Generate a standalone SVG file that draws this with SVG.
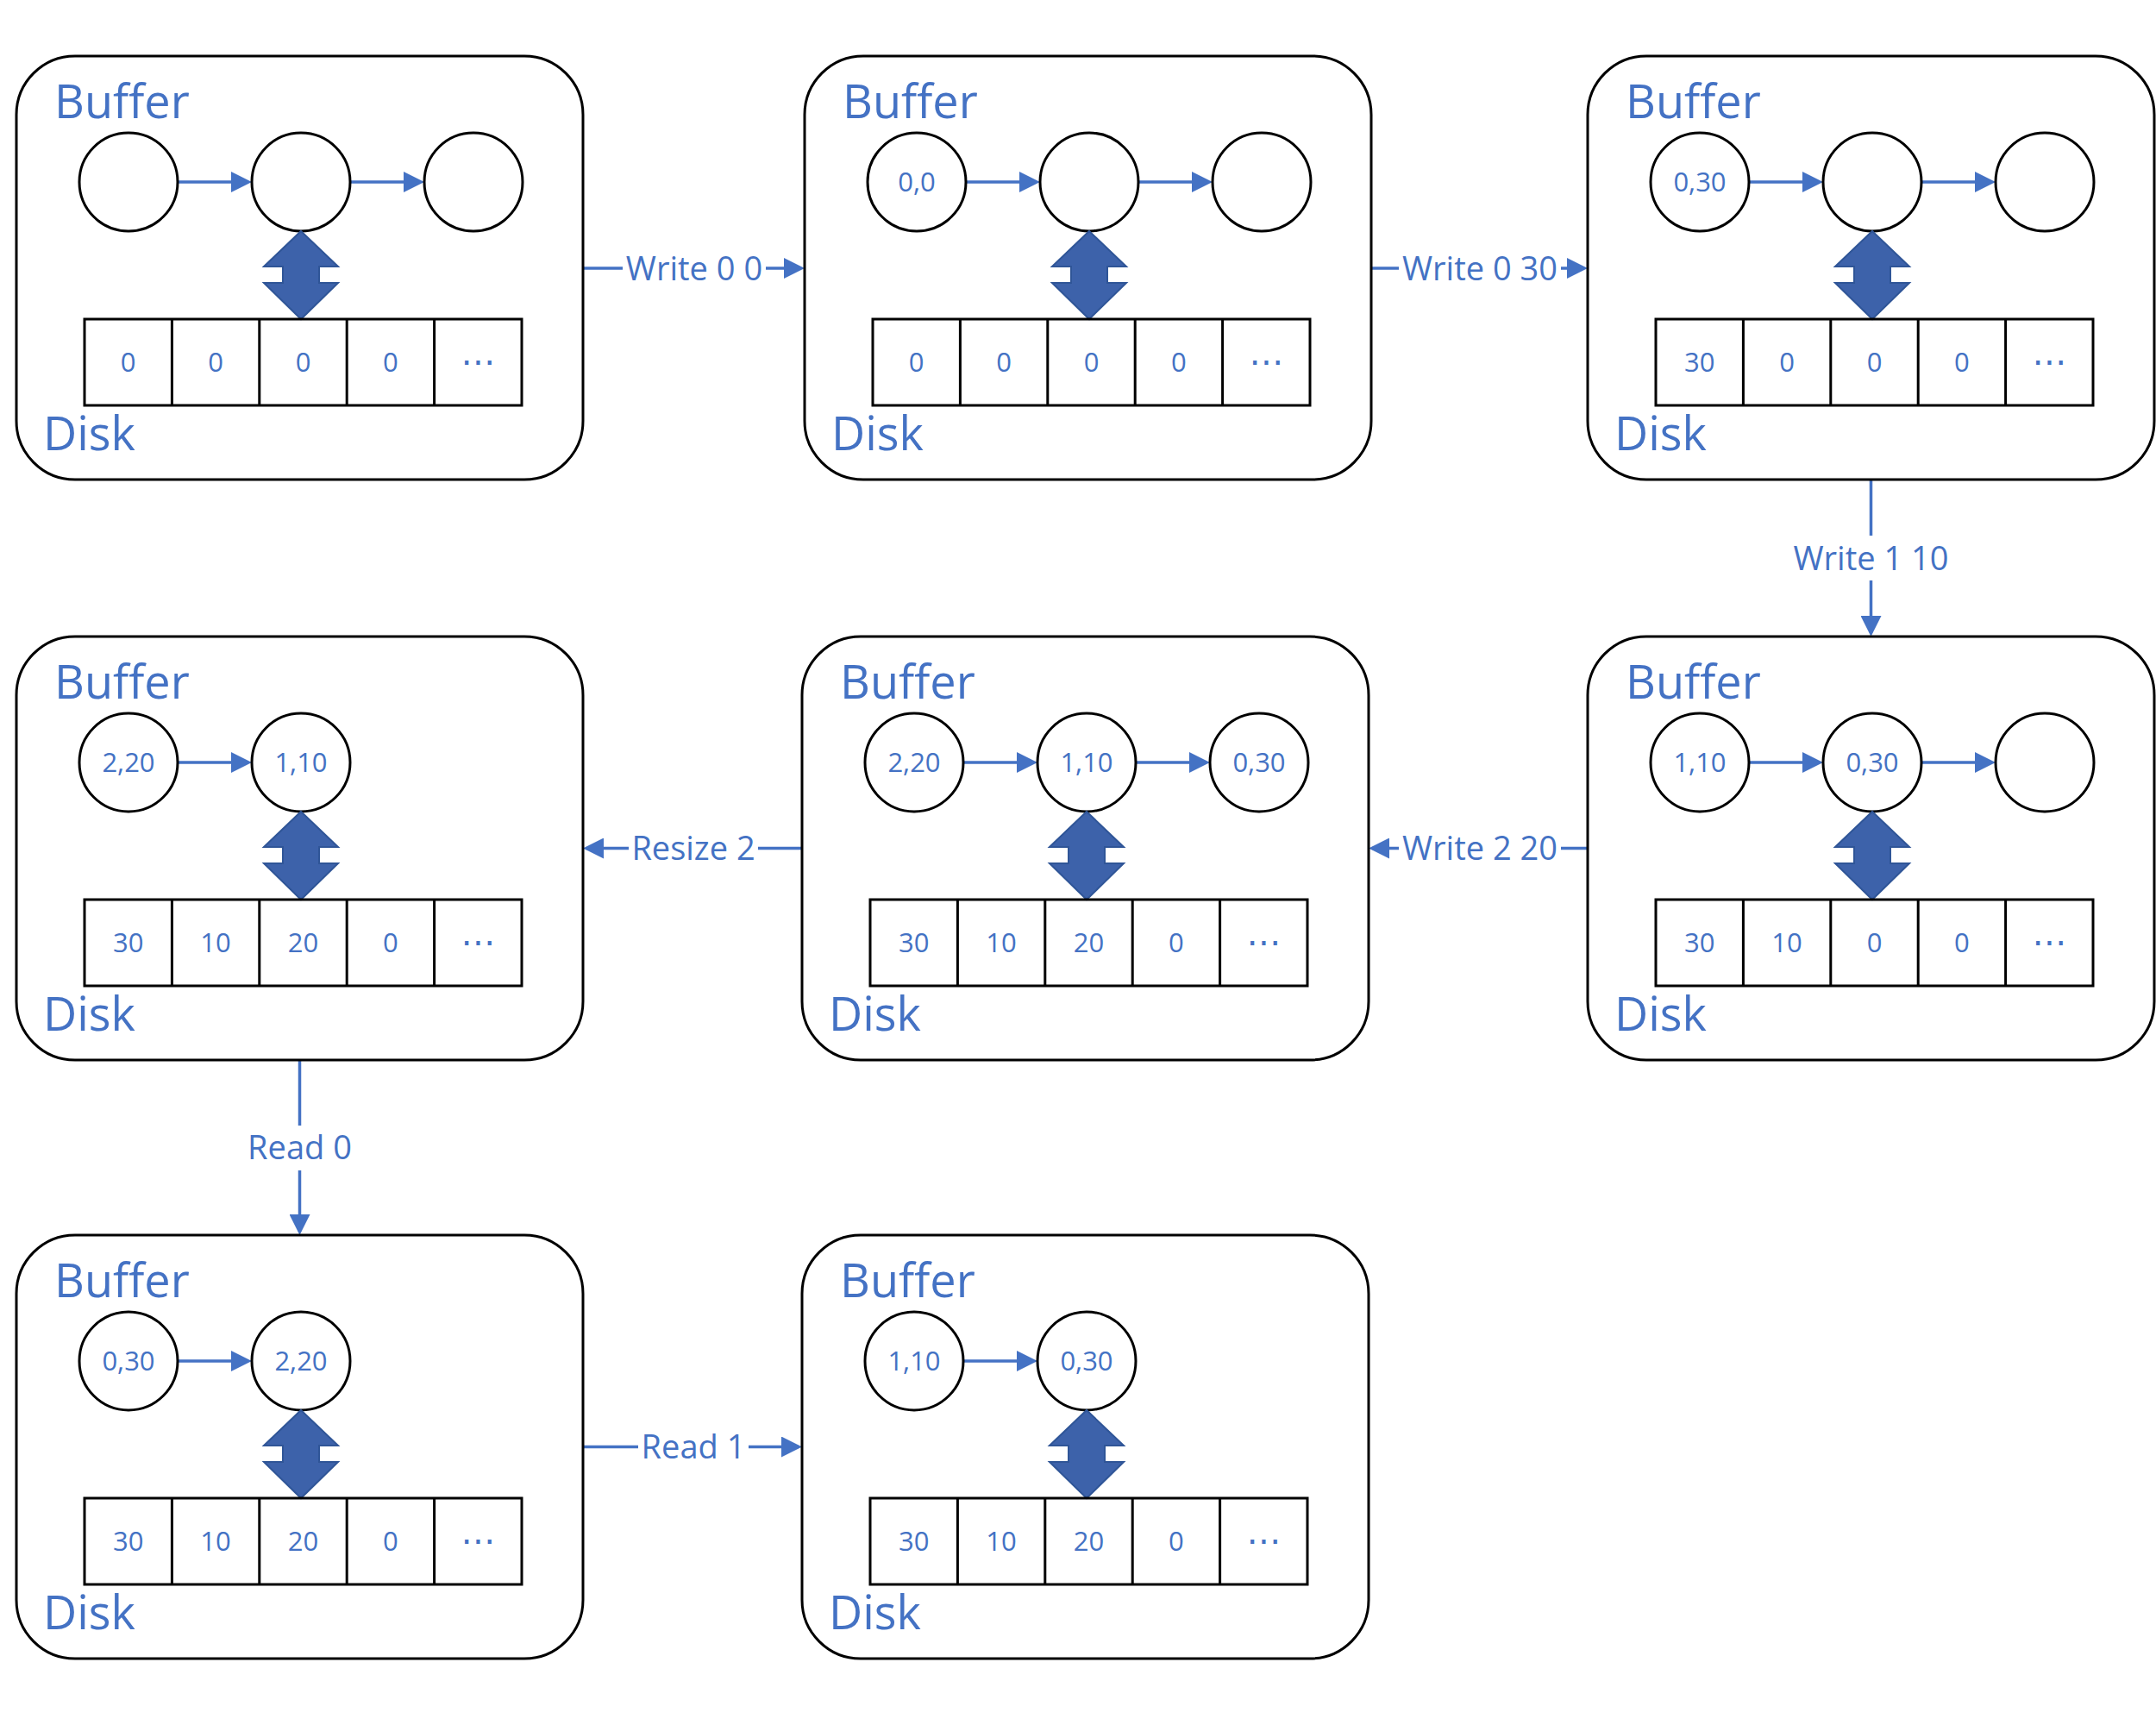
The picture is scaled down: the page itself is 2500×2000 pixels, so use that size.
<svg xmlns="http://www.w3.org/2000/svg" width="2500" height="2000" viewBox="0 0 2500 2000">
<style>
.panel{fill:#fff;stroke:#000;stroke-width:3}
.node{fill:#fff;stroke:#000;stroke-width:3}
.cells{fill:none;stroke:#000;stroke-width:3}
.link{stroke:#4472C4;stroke-width:3.5;fill:none}
.dbl{fill:#3D62AA;stroke:#2F5597;stroke-width:2}
.title{font-family:"Open Sans","Liberation Sans",sans-serif;font-size:54px;fill:#4472C4}
.val{font-family:"Open Sans","Liberation Sans",sans-serif;font-size:31px;fill:#4472C4;text-anchor:middle}
.ell{font-family:"DejaVu Sans",sans-serif;font-size:40px;fill:#4472C4;text-anchor:middle}
.lbl{font-family:"Open Sans","Liberation Sans",sans-serif;font-size:38px;fill:#4472C4;text-anchor:middle}
.bg{fill:#fff;stroke:none}
</style>
<defs>
<marker id="ah" markerUnits="userSpaceOnUse" markerWidth="24" markerHeight="24" viewBox="0 0 24 24" refX="20" refY="12" orient="auto">
<path d="M0,0 L24,12 L0,24 Z" fill="#4472C4"/>
</marker>
</defs>
<rect width="2500" height="2000" fill="#fff"/>

<g id="connectors">
<line class="link" x1="676" y1="311" x2="929" y2="311" marker-end="url(#ah)"/>
<rect class="bg" x="722" y="287" width="166" height="48"/>
<text class="lbl" x="805" y="324.6">Write 0 0</text>

<line class="link" x1="1590" y1="311" x2="1837" y2="311" marker-end="url(#ah)"/>
<rect class="bg" x="1622" y="287" width="188" height="48"/>
<text class="lbl" x="1716" y="324.6">Write 0 30</text>

<line class="link" x1="2169.5" y1="556" x2="2169.5" y2="734" marker-end="url(#ah)"/>
<rect class="bg" x="2075" y="621" width="190" height="52"/>
<text class="lbl" x="2169.5" y="661">Write 1 10</text>

<line class="link" x1="1841" y1="983.5" x2="1591" y2="983.5" marker-end="url(#ah)"/>
<rect class="bg" x="1622" y="959.5" width="188" height="48"/>
<text class="lbl" x="1716" y="997.1">Write 2 20</text>

<line class="link" x1="930" y1="983.5" x2="680" y2="983.5" marker-end="url(#ah)"/>
<rect class="bg" x="729" y="959.5" width="150" height="48"/>
<text class="lbl" x="804" y="997.1">Resize 2</text>

<line class="link" x1="347.5" y1="1229" x2="347.5" y2="1428" marker-end="url(#ah)"/>
<rect class="bg" x="280" y="1305" width="135" height="52"/>
<text class="lbl" x="347.5" y="1343.6">Read 0</text>

<line class="link" x1="676" y1="1677.5" x2="926" y2="1677.5" marker-end="url(#ah)"/>
<rect class="bg" x="740" y="1653.5" width="128" height="48"/>
<text class="lbl" x="804" y="1691.1">Read 1</text>
</g>

<g id="state1" transform="translate(19,65)">
<rect class="panel" x="0" y="0" width="657" height="491" rx="68"/>
<text class="title" x="44" y="72">Buffer</text>
<line class="link" x1="187" y1="146" x2="269" y2="146" marker-end="url(#ah)"/>
<line class="link" x1="387" y1="146" x2="469" y2="146" marker-end="url(#ah)"/>
<circle class="node" cx="130" cy="146" r="57"/>
<circle class="node" cx="330" cy="146" r="57"/>
<circle class="node" cx="530" cy="146" r="57"/>
<polygon class="dbl" points="330,203 373,244 351,244 351,263 373,263 330,305 287,263 309,263 309,244 287,244"/>
<rect class="cells" x="79" y="305" width="507" height="100"/>
<path class="cells" d="M180.4 305V405M281.8 305V405M383.2 305V405M484.6 305V405"/>
<text class="val" x="129.7" y="366">0</text>
<text class="val" x="231.1" y="366">0</text>
<text class="val" x="332.5" y="366">0</text>
<text class="val" x="433.9" y="366">0</text>
<text class="ell" x="535.3" y="368">⋯</text>
<text class="title" x="31" y="457">Disk</text>
</g>

<g id="state2" transform="translate(933,65)">
<rect class="panel" x="0" y="0" width="657" height="491" rx="68"/>
<text class="title" x="44" y="72">Buffer</text>
<line class="link" x1="187" y1="146" x2="269" y2="146" marker-end="url(#ah)"/>
<line class="link" x1="387" y1="146" x2="469" y2="146" marker-end="url(#ah)"/>
<circle class="node" cx="130" cy="146" r="57"/>
<circle class="node" cx="330" cy="146" r="57"/>
<circle class="node" cx="530" cy="146" r="57"/>
<text class="val" x="130" y="157">0,0</text>
<polygon class="dbl" points="330,203 373,244 351,244 351,263 373,263 330,305 287,263 309,263 309,244 287,244"/>
<rect class="cells" x="79" y="305" width="507" height="100"/>
<path class="cells" d="M180.4 305V405M281.8 305V405M383.2 305V405M484.6 305V405"/>
<text class="val" x="129.7" y="366">0</text>
<text class="val" x="231.1" y="366">0</text>
<text class="val" x="332.5" y="366">0</text>
<text class="val" x="433.9" y="366">0</text>
<text class="ell" x="535.3" y="368">⋯</text>
<text class="title" x="31" y="457">Disk</text>
</g>

<g id="state3" transform="translate(1841,65)">
<rect class="panel" x="0" y="0" width="657" height="491" rx="68"/>
<text class="title" x="44" y="72">Buffer</text>
<line class="link" x1="187" y1="146" x2="269" y2="146" marker-end="url(#ah)"/>
<line class="link" x1="387" y1="146" x2="469" y2="146" marker-end="url(#ah)"/>
<circle class="node" cx="130" cy="146" r="57"/>
<circle class="node" cx="330" cy="146" r="57"/>
<circle class="node" cx="530" cy="146" r="57"/>
<text class="val" x="130" y="157">0,30</text>
<polygon class="dbl" points="330,203 373,244 351,244 351,263 373,263 330,305 287,263 309,263 309,244 287,244"/>
<rect class="cells" x="79" y="305" width="507" height="100"/>
<path class="cells" d="M180.4 305V405M281.8 305V405M383.2 305V405M484.6 305V405"/>
<text class="val" x="129.7" y="366">30</text>
<text class="val" x="231.1" y="366">0</text>
<text class="val" x="332.5" y="366">0</text>
<text class="val" x="433.9" y="366">0</text>
<text class="ell" x="535.3" y="368">⋯</text>
<text class="title" x="31" y="457">Disk</text>
</g>

<g id="state4" transform="translate(1841,738)">
<rect class="panel" x="0" y="0" width="657" height="491" rx="68"/>
<text class="title" x="44" y="72">Buffer</text>
<line class="link" x1="187" y1="146" x2="269" y2="146" marker-end="url(#ah)"/>
<line class="link" x1="387" y1="146" x2="469" y2="146" marker-end="url(#ah)"/>
<circle class="node" cx="130" cy="146" r="57"/>
<circle class="node" cx="330" cy="146" r="57"/>
<circle class="node" cx="530" cy="146" r="57"/>
<text class="val" x="130" y="157">1,10</text>
<text class="val" x="330" y="157">0,30</text>
<polygon class="dbl" points="330,203 373,244 351,244 351,263 373,263 330,305 287,263 309,263 309,244 287,244"/>
<rect class="cells" x="79" y="305" width="507" height="100"/>
<path class="cells" d="M180.4 305V405M281.8 305V405M383.2 305V405M484.6 305V405"/>
<text class="val" x="129.7" y="366">30</text>
<text class="val" x="231.1" y="366">10</text>
<text class="val" x="332.5" y="366">0</text>
<text class="val" x="433.9" y="366">0</text>
<text class="ell" x="535.3" y="368">⋯</text>
<text class="title" x="31" y="457">Disk</text>
</g>

<g id="state5" transform="translate(930,738)">
<rect class="panel" x="0" y="0" width="657" height="491" rx="68"/>
<text class="title" x="44" y="72">Buffer</text>
<line class="link" x1="187" y1="146" x2="269" y2="146" marker-end="url(#ah)"/>
<line class="link" x1="387" y1="146" x2="469" y2="146" marker-end="url(#ah)"/>
<circle class="node" cx="130" cy="146" r="57"/>
<circle class="node" cx="330" cy="146" r="57"/>
<circle class="node" cx="530" cy="146" r="57"/>
<text class="val" x="130" y="157">2,20</text>
<text class="val" x="330" y="157">1,10</text>
<text class="val" x="530" y="157">0,30</text>
<polygon class="dbl" points="330,203 373,244 351,244 351,263 373,263 330,305 287,263 309,263 309,244 287,244"/>
<rect class="cells" x="79" y="305" width="507" height="100"/>
<path class="cells" d="M180.4 305V405M281.8 305V405M383.2 305V405M484.6 305V405"/>
<text class="val" x="129.7" y="366">30</text>
<text class="val" x="231.1" y="366">10</text>
<text class="val" x="332.5" y="366">20</text>
<text class="val" x="433.9" y="366">0</text>
<text class="ell" x="535.3" y="368">⋯</text>
<text class="title" x="31" y="457">Disk</text>
</g>

<g id="state6" transform="translate(19,738)">
<rect class="panel" x="0" y="0" width="657" height="491" rx="68"/>
<text class="title" x="44" y="72">Buffer</text>
<line class="link" x1="187" y1="146" x2="269" y2="146" marker-end="url(#ah)"/>
<circle class="node" cx="130" cy="146" r="57"/>
<circle class="node" cx="330" cy="146" r="57"/>
<text class="val" x="130" y="157">2,20</text>
<text class="val" x="330" y="157">1,10</text>
<polygon class="dbl" points="330,203 373,244 351,244 351,263 373,263 330,305 287,263 309,263 309,244 287,244"/>
<rect class="cells" x="79" y="305" width="507" height="100"/>
<path class="cells" d="M180.4 305V405M281.8 305V405M383.2 305V405M484.6 305V405"/>
<text class="val" x="129.7" y="366">30</text>
<text class="val" x="231.1" y="366">10</text>
<text class="val" x="332.5" y="366">20</text>
<text class="val" x="433.9" y="366">0</text>
<text class="ell" x="535.3" y="368">⋯</text>
<text class="title" x="31" y="457">Disk</text>
</g>

<g id="state7" transform="translate(19,1432)">
<rect class="panel" x="0" y="0" width="657" height="491" rx="68"/>
<text class="title" x="44" y="72">Buffer</text>
<line class="link" x1="187" y1="146" x2="269" y2="146" marker-end="url(#ah)"/>
<circle class="node" cx="130" cy="146" r="57"/>
<circle class="node" cx="330" cy="146" r="57"/>
<text class="val" x="130" y="157">0,30</text>
<text class="val" x="330" y="157">2,20</text>
<polygon class="dbl" points="330,203 373,244 351,244 351,263 373,263 330,305 287,263 309,263 309,244 287,244"/>
<rect class="cells" x="79" y="305" width="507" height="100"/>
<path class="cells" d="M180.4 305V405M281.8 305V405M383.2 305V405M484.6 305V405"/>
<text class="val" x="129.7" y="366">30</text>
<text class="val" x="231.1" y="366">10</text>
<text class="val" x="332.5" y="366">20</text>
<text class="val" x="433.9" y="366">0</text>
<text class="ell" x="535.3" y="368">⋯</text>
<text class="title" x="31" y="457">Disk</text>
</g>

<g id="state8" transform="translate(930,1432)">
<rect class="panel" x="0" y="0" width="657" height="491" rx="68"/>
<text class="title" x="44" y="72">Buffer</text>
<line class="link" x1="187" y1="146" x2="269" y2="146" marker-end="url(#ah)"/>
<circle class="node" cx="130" cy="146" r="57"/>
<circle class="node" cx="330" cy="146" r="57"/>
<text class="val" x="130" y="157">1,10</text>
<text class="val" x="330" y="157">0,30</text>
<polygon class="dbl" points="330,203 373,244 351,244 351,263 373,263 330,305 287,263 309,263 309,244 287,244"/>
<rect class="cells" x="79" y="305" width="507" height="100"/>
<path class="cells" d="M180.4 305V405M281.8 305V405M383.2 305V405M484.6 305V405"/>
<text class="val" x="129.7" y="366">30</text>
<text class="val" x="231.1" y="366">10</text>
<text class="val" x="332.5" y="366">20</text>
<text class="val" x="433.9" y="366">0</text>
<text class="ell" x="535.3" y="368">⋯</text>
<text class="title" x="31" y="457">Disk</text>
</g>
</svg>
